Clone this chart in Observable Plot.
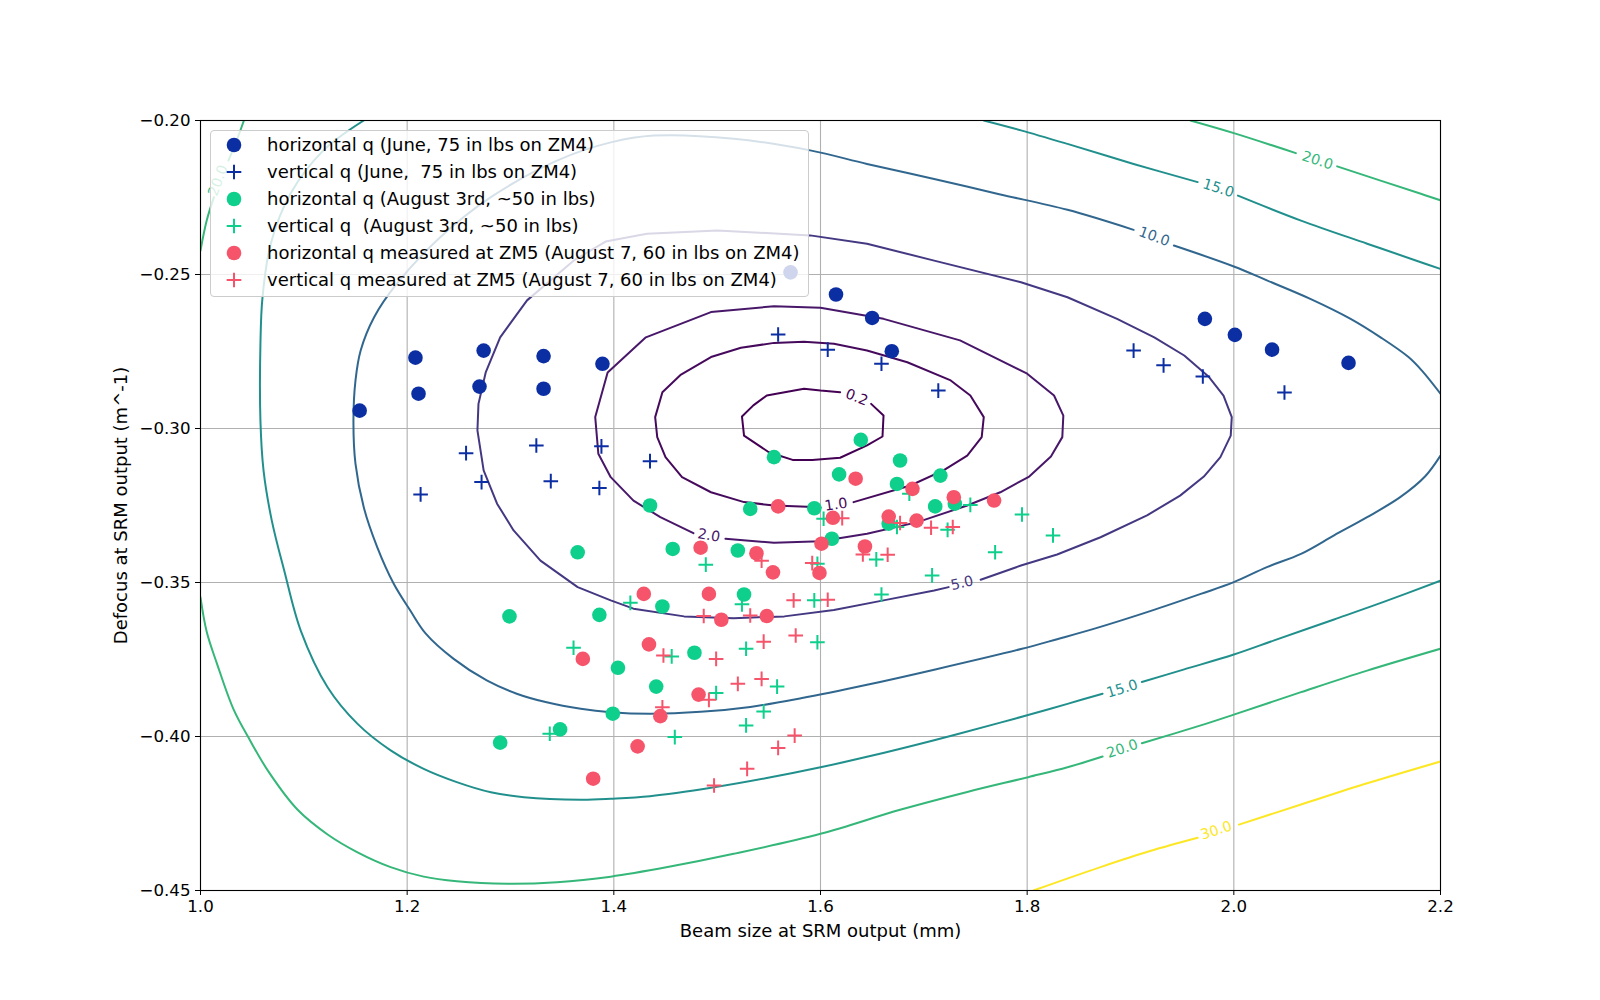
<!DOCTYPE html>
<html>
<head>
<meta charset="utf-8">
<script src="https://cdn.jsdelivr.net/npm/d3@7"></script>
<script src="https://cdn.jsdelivr.net/npm/@observablehq/plot@0.6"></script>
<style>
  body { margin: 0; background: #ffffff; }
  #wrap { position: relative; width: 1600px; height: 1000px; font-family: "DejaVu Sans", sans-serif; background: #fff; }
  #wrap > svg { position: absolute; left: 0; top: 0; }
  #legend { position: absolute; left: 210px; top: 130px; width: 599px; height: 167px; box-sizing: border-box;
            background: rgba(255,255,255,0.8); border: 1px solid #cccccc; border-radius: 4px; }
  .lrow { position: absolute; left: 0; height: 27px; width: 590px; }
  .lrow svg { position: absolute; left: 13px; top: 3.5px; }
  .lrow span { position: absolute; left: 56px; top: 0; line-height: 27px; font-size: 18px; white-space: pre; color: #000; }
</style>
</head>
<body>
<div id="wrap"></div>
<script>
// ---------- axis ticks ----------
const xTicks = [1.0, 1.2, 1.4, 1.6, 1.8, 2.0, 2.2];
const yTicks = [-0.45, -0.40, -0.35, -0.30, -0.25, -0.20];
const xLabel = "Beam size at SRM output (mm)";
const yLabel = "Defocus at SRM output (m^-1)";

// ---------- contour levels and traced contour lines (data units) ----------
const contourLevels = [0.2, 1.0, 2.0, 5.0, 10.0, 15.0, 20.0, 30.0];

const contour_0_2 = [
  [[1.649,-0.2920],[1.661,-0.2958],[1.660,-0.3026],[1.645,-0.3055],[1.619,-0.3095],[1.592,-0.3102],[1.573,-0.3102],[1.550,-0.3077],[1.526,-0.3023],[1.524,-0.2961],[1.535,-0.2925],[1.548,-0.2893],[1.584,-0.2871],[1.600,-0.2877],[1.619,-0.2882]]
];
const contour_1_0 = [
  [[1.632,-0.3239],[1.687,-0.3185],[1.719,-0.3136],[1.742,-0.3088],[1.756,-0.3028],[1.758,-0.2963],[1.745,-0.2893],[1.726,-0.2844],[1.684,-0.2785],[1.645,-0.2747],[1.613,-0.2725],[1.584,-0.2718],[1.555,-0.2722],[1.523,-0.2738],[1.494,-0.2768],[1.465,-0.2825],[1.447,-0.2882],[1.440,-0.2963],[1.442,-0.3028],[1.450,-0.3093],[1.466,-0.3158],[1.494,-0.3207],[1.526,-0.3239],[1.555,-0.3250],[1.600,-0.3256]]
];
const contour_2_0 = [
  [[1.508,-0.3358],[1.555,-0.3371],[1.600,-0.3366],[1.645,-0.3342],[1.694,-0.3304],[1.742,-0.3250],[1.774,-0.3207],[1.802,-0.3156],[1.823,-0.3091],[1.834,-0.3028],[1.835,-0.2958],[1.826,-0.2893],[1.800,-0.2822],[1.735,-0.2714],[1.661,-0.2644],[1.600,-0.2608],[1.555,-0.2603],[1.494,-0.2622],[1.431,-0.2704],[1.394,-0.2818],[1.382,-0.2963],[1.385,-0.3082],[1.397,-0.3158],[1.419,-0.3234],[1.445,-0.3288],[1.477,-0.3340]]
];
const contour_5_0 = [
  [[1.755,-0.3491],[1.794,-0.3445],[1.829,-0.3409],[1.871,-0.3353],[1.916,-0.3282],[1.948,-0.3218],[1.971,-0.3156],[1.987,-0.3093],[1.997,-0.3023],[1.998,-0.2963],[1.990,-0.2893],[1.976,-0.2833],[1.952,-0.2763],[1.923,-0.2704],[1.887,-0.2644],[1.839,-0.2574],[1.794,-0.2525],[1.710,-0.2455],[1.645,-0.2400],[1.590,-0.2373],[1.500,-0.2357],[1.432,-0.2368],[1.392,-0.2393],[1.361,-0.2455],[1.316,-0.2584],[1.290,-0.2704],[1.276,-0.2818],[1.269,-0.2920],[1.268,-0.3006],[1.274,-0.3136],[1.287,-0.3244],[1.303,-0.3331],[1.329,-0.3429],[1.365,-0.3515],[1.397,-0.3558],[1.419,-0.3585],[1.468,-0.3610],[1.516,-0.3616],[1.565,-0.3610],[1.613,-0.3589],[1.661,-0.3558],[1.710,-0.3526],[1.724,-0.3515]]
];
const contour_10_0 = [
  [[1.942,-0.2406],[2.000,-0.2474],[2.032,-0.2519],[2.074,-0.2579],[2.113,-0.2644],[2.142,-0.2704],[2.169,-0.2768],[2.182,-0.2812],[2.200,-0.2887]],
  [[2.200,-0.3088],[2.185,-0.3156],[2.161,-0.3223],[2.129,-0.3288],[2.097,-0.3347],[2.065,-0.3407],[2.032,-0.3450],[2.000,-0.3499],[1.968,-0.3537],[1.919,-0.3593],[1.866,-0.3649],[1.829,-0.3684],[1.794,-0.3716],[1.710,-0.3783],[1.645,-0.3832],[1.581,-0.3876],[1.532,-0.3904],[1.484,-0.3920],[1.435,-0.3926],[1.397,-0.3921],[1.368,-0.3910],[1.335,-0.3889],[1.306,-0.3861],[1.277,-0.3818],[1.245,-0.3748],[1.218,-0.3666],[1.203,-0.3591],[1.187,-0.3504],[1.171,-0.3385],[1.158,-0.3256],[1.150,-0.3115],[1.148,-0.2974],[1.150,-0.2844],[1.155,-0.2747],[1.168,-0.2639],[1.190,-0.2530],[1.232,-0.2379],[1.281,-0.2249],[1.345,-0.2130],[1.397,-0.2071],[1.439,-0.2049],[1.516,-0.2059],[1.590,-0.2097],[1.645,-0.2141],[1.710,-0.2190],[1.774,-0.2240],[1.839,-0.2290],[1.903,-0.2355]]
];
const contour_15_0 = [
  [[2.004,-0.2244],[2.065,-0.2325],[2.129,-0.2400],[2.181,-0.2460],[2.200,-0.2482]],
  [[1.965,-0.2200],[1.903,-0.2141],[1.839,-0.2076],[1.794,-0.2032],[1.758,-0.2000]],
  [[1.158,-0.2000],[1.119,-0.2097],[1.087,-0.2238],[1.068,-0.2400],[1.060,-0.2574],[1.058,-0.2725],[1.058,-0.2974],[1.061,-0.3136],[1.069,-0.3299],[1.081,-0.3461],[1.097,-0.3656],[1.123,-0.3840],[1.152,-0.3959],[1.184,-0.4045],[1.216,-0.4105],[1.248,-0.4148],[1.281,-0.4181],[1.313,-0.4197],[1.368,-0.4205],[1.397,-0.4202],[1.435,-0.4194],[1.497,-0.4165],[1.548,-0.4135],[1.600,-0.4100],[1.645,-0.4066],[1.710,-0.4012],[1.774,-0.3955],[1.800,-0.3931],[1.839,-0.3894],[1.873,-0.3861]],
  [[1.911,-0.3823],[1.952,-0.3782],[2.000,-0.3734],[2.039,-0.3688],[2.097,-0.3620],[2.145,-0.3563],[2.200,-0.3494]]
];
const contour_20_0 = [
  [[1.958,-0.2000],[2.000,-0.2041],[2.060,-0.2106]],
  [[2.100,-0.2149],[2.181,-0.2238],[2.200,-0.2259]],
  [[1.042,-0.2000],[1.035,-0.2065],[1.027,-0.2130]],
  [[1.013,-0.2249],[1.006,-0.2325],[1.000,-0.2422]],
  [[1.000,-0.3548],[1.006,-0.3660],[1.016,-0.3764],[1.032,-0.3912],[1.048,-0.4013],[1.066,-0.4115],[1.094,-0.4238],[1.123,-0.4318],[1.152,-0.4376],[1.184,-0.4424],[1.216,-0.4455],[1.248,-0.4470],[1.297,-0.4478],[1.345,-0.4473],[1.397,-0.4455],[1.452,-0.4424],[1.516,-0.4381],[1.600,-0.4316],[1.677,-0.4238],[1.742,-0.4180],[1.801,-0.4132],[1.839,-0.4100],[1.873,-0.4065]],
  [[1.911,-0.4022],[1.968,-0.3964],[2.000,-0.3929],[2.065,-0.3856],[2.129,-0.3786],[2.200,-0.3715]]
];
const contour_30_0 = [
  [[1.806,-0.4500],[1.871,-0.4424],[1.919,-0.4372],[1.965,-0.4329]],
  [[2.005,-0.4286],[2.065,-0.4221],[2.129,-0.4152],[2.200,-0.4081]]
];
const contourLines = [contour_0_2, contour_1_0, contour_2_0, contour_5_0, contour_10_0, contour_15_0, contour_20_0, contour_30_0];

// contour labels
const labelLevel = [0.2, 1.0, 2.0, 5.0, 10.0, 15.0, 20.0, 15.0, 20.0, 30.0, 20.0];
const labelX     = [1.635, 1.615, 1.492, 1.737, 1.923, 1.985, 2.081, 1.892, 1.892, 1.983, 1.017];
const labelY     = [-0.2899, -0.3247, -0.3347, -0.3502, -0.2377, -0.2220, -0.2130, -0.3845, -0.4040, -0.4305, -0.2195];
const labelAngle = [21, -8, 10, -13, 20, 18, 18, -17, -18, -18, -69];

// ---------- measured beam parameters ----------
const juneHorizontal = [[1.154,-0.2942],[1.208,-0.2770],[1.211,-0.2887],[1.274,-0.2747],[1.270,-0.2864],[1.332,-0.2765],[1.332,-0.2871],[1.389,-0.2790],[1.571,-0.2493],[1.615,-0.2565],[1.650,-0.2641],[1.669,-0.2749],[1.972,-0.2644],[2.001,-0.2696],[2.037,-0.2744],[2.111,-0.2787]];
const juneVertical = [[1.213,-0.3214],[1.257,-0.3080],[1.272,-0.3174],[1.325,-0.3055],[1.339,-0.3171],[1.388,-0.3058],[1.386,-0.3193],[1.435,-0.3106],[1.559,-0.2695],[1.607,-0.2744],[1.659,-0.2790],[1.714,-0.2877],[1.903,-0.2747],[1.932,-0.2795],[1.970,-0.2831],[2.049,-0.2883]];
const augHorizontal = [[1.365,-0.3402],[1.299,-0.3610],[1.386,-0.3605],[1.639,-0.3037],[1.555,-0.3093],[1.677,-0.3104],[1.618,-0.3149],[1.674,-0.3180],[1.716,-0.3153],[1.435,-0.3250],[1.532,-0.3261],[1.594,-0.3259],[1.711,-0.3253],[1.730,-0.3244],[1.666,-0.3309],[1.611,-0.3358],[1.457,-0.3391],[1.520,-0.3396],[1.526,-0.3539],[1.447,-0.3578],[1.290,-0.4020],[1.348,-0.3977],[1.399,-0.3926],[1.404,-0.3777],[1.441,-0.3838],[1.478,-0.3728]];
const augVertical = [[1.686,-0.3212],[1.745,-0.3248],[1.603,-0.3293],[1.674,-0.3320],[1.723,-0.3329],[1.769,-0.3402],[1.489,-0.3442],[1.597,-0.3439],[1.654,-0.3425],[1.708,-0.3477],[1.659,-0.3539],[1.416,-0.3566],[1.524,-0.3571],[1.594,-0.3558],[1.795,-0.3279],[1.825,-0.3347],[1.456,-0.3740],[1.528,-0.3715],[1.597,-0.3694],[1.499,-0.3859],[1.558,-0.3838],[1.545,-0.3919],[1.528,-0.3964],[1.459,-0.4002],[1.361,-0.3712],[1.338,-0.3991]];
const zm5Horizontal = [[1.634,-0.3163],[1.689,-0.3196],[1.729,-0.3223],[1.768,-0.3234],[1.559,-0.3253],[1.612,-0.3290],[1.666,-0.3286],[1.693,-0.3299],[1.601,-0.3374],[1.643,-0.3383],[1.484,-0.3387],[1.538,-0.3405],[1.554,-0.3467],[1.599,-0.3469],[1.429,-0.3537],[1.492,-0.3537],[1.504,-0.3621],[1.548,-0.3609],[1.434,-0.3701],[1.370,-0.3748],[1.380,-0.4137],[1.482,-0.3864],[1.445,-0.3934],[1.423,-0.4032]];
const zm5Vertical = [[1.621,-0.3291],[1.677,-0.3307],[1.707,-0.3322],[1.728,-0.3320],[1.543,-0.3429],[1.592,-0.3437],[1.641,-0.3409],[1.665,-0.3410],[1.574,-0.3558],[1.607,-0.3556],[1.487,-0.3609],[1.532,-0.3607],[1.576,-0.3672],[1.545,-0.3692],[1.448,-0.3737],[1.499,-0.3748],[1.447,-0.3905],[1.492,-0.3881],[1.520,-0.3829],[1.543,-0.3813],[1.575,-0.3997],[1.559,-0.4037],[1.529,-0.4105],[1.497,-0.4159]];

const seriesData   = [juneHorizontal, juneVertical, augHorizontal, augVertical, zm5Horizontal, zm5Vertical];
const seriesLabels = [
  "horizontal q (June, 75 in lbs on ZM4)",
  "vertical q (June,  75 in lbs on ZM4)",
  "horizontal q (August 3rd, ~50 in lbs)",
  "vertical q  (August 3rd, ~50 in lbs)",
  "horizontal q measured at ZM5 (August 7, 60 in lbs on ZM4)",
  "vertical q measured at ZM5 (August 7, 60 in lbs on ZM4)"
];
const seriesShapes = ["circle", "plus", "circle", "plus", "circle", "plus"];
const seriesColors = ["#0c2ea3", "#0c2ea3", "#0ecf8b", "#0ecf8b", "#f5546a", "#f5546a"];

// ---------- build ----------
const levelColor = v => d3.interpolateViridis((v - contourLevels[0]) / (contourLevels[contourLevels.length - 1] - contourLevels[0]));

const contourRows = [];
contourLines.forEach((segs, li) => {
  segs.forEach((seg, si) => {
    seg.forEach(([x, y]) => contourRows.push({level: contourLevels[li], seg: `${li}-${si}`, x, y}));
  });
});
const labelRows = labelLevel.map((lv, i) => ({level: lv, x: labelX[i], y: labelY[i], angle: labelAngle[i], text: lv.toFixed(1)}));

const plusSymbol = {
  draw(context, size) {
    const h = Math.sqrt(size / Math.PI);
    context.moveTo(-h, 0); context.lineTo(h, 0);
    context.moveTo(0, -h); context.lineTo(0, h);
  }
};

const scatterMarks = seriesData.map((arr, i) => {
  const rows = arr.map(([x, y]) => ({x, y}));
  return seriesShapes[i] === "circle"
    ? Plot.dot(rows, {x: "x", y: "y", r: 7.3, fill: seriesColors[i], stroke: "none"})
    : Plot.dot(rows, {x: "x", y: "y", r: 7.3, symbol: plusSymbol, fill: "none", stroke: seriesColors[i], strokeWidth: 2});
});

const smoothLevels = new Set([10, 15, 20, 30]);

const chart = Plot.plot({
  width: 1600,
  height: 1000,
  marginLeft: 200,
  marginRight: 160,
  marginTop: 120,
  marginBottom: 110,
  style: {fontFamily: "DejaVu Sans", fontSize: "16.67px", color: "#000", background: "transparent", overflow: "visible"},
  x: {domain: [1.0, 2.2]},
  y: {domain: [-0.45, -0.20]},
  color: {type: "identity"},
  marks: [
    Plot.gridX(xTicks, {stroke: "#b0b0b0", strokeOpacity: 1, strokeWidth: 1.1}),
    Plot.gridY(yTicks, {stroke: "#b0b0b0", strokeOpacity: 1, strokeWidth: 1.1}),
    Plot.line(contourRows.filter(d => !smoothLevels.has(d.level)), {x: "x", y: "y", z: "seg", stroke: d => levelColor(d.level), strokeWidth: 2, curve: "linear", clip: true}),
    Plot.line(contourRows.filter(d => smoothLevels.has(d.level)), {x: "x", y: "y", z: "seg", stroke: d => levelColor(d.level), strokeWidth: 2, curve: "catmull-rom", clip: true}),
    Plot.text(labelRows, {x: "x", y: "y", text: "text", rotate: "angle", fill: d => levelColor(d.level), fontSize: 14.3, textAnchor: "middle", lineAnchor: "middle"}),
    ...scatterMarks,
    Plot.frame({stroke: "#000", strokeWidth: 1.1}),
    Plot.axisX(xTicks, {tickSize: 5, tickPadding: 5, tickFormat: d3.format(".1f"), label: null, fontSize: 16.67}),
    Plot.axisY(yTicks, {tickSize: 5, tickPadding: 5, tickFormat: d3.format(".2f"), label: null, fontSize: 16.67}),
    Plot.text([xLabel], {frameAnchor: "bottom", dy: 41, text: d => d, fontSize: 18, textAnchor: "middle", lineAnchor: "middle"}),
    Plot.text([yLabel], {frameAnchor: "left", dx: -79, text: d => d, fontSize: 18, rotate: -90, textAnchor: "middle", lineAnchor: "middle"})
  ]
});

const wrap = document.getElementById("wrap");
wrap.appendChild(chart);

// legend (matplotlib-style, semi-transparent box on top of the axes)
const legend = document.createElement("div");
legend.id = "legend";
seriesLabels.forEach((lab, i) => {
  const row = document.createElement("div");
  row.className = "lrow";
  row.style.top = (27 * i) + "px";
  const c = seriesColors[i];
  const marker = seriesShapes[i] === "circle"
    ? `<svg width="20" height="20" viewBox="-10 -10 20 20"><circle r="7.3" fill="${c}"/></svg>`
    : `<svg width="20" height="20" viewBox="-10 -10 20 20"><path d="M-7.3,0H7.3M0,-7.3V7.3" stroke="${c}" stroke-width="2" fill="none"/></svg>`;
  row.innerHTML = marker + `<span></span>`;
  row.querySelector("span").textContent = lab;
  legend.appendChild(row);
});
wrap.appendChild(legend);
</script>
</body>
</html>
